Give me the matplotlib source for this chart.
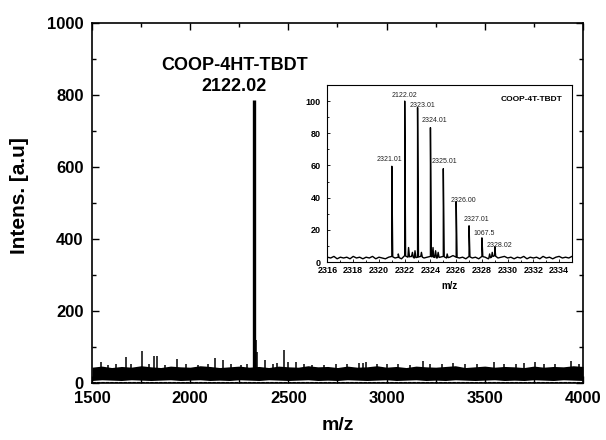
import numpy as np
import matplotlib.pyplot as plt

plt.rcParams['font.family'] = ['Liberation Sans', 'DejaVu Sans']
plt.rcParams['font.weight'] = 'bold'

# ---- main spectrum (1500-4000) ----
band_mz = np.arange(1500, 4001, 50)
band_top = [44, 47, 43, 46, 44, 48, 45, 43, 47, 45, 44, 48, 46, 43, 45,
            47, 44, 46, 43, 47, 45, 44, 48, 45, 46, 43, 47, 44, 45, 48,
            44, 46, 43, 47, 45, 44, 46, 48, 43, 45, 47, 44, 46, 45, 43,
            47, 44, 46, 45, 48, 46]
band_bottom = [7, 9, 8, 7, 9, 8, 7, 8, 9, 7, 8, 9, 7, 8, 7, 9, 8,
               7, 9, 8, 7, 8, 9, 7, 8, 7, 9, 8, 7, 8, 9, 7, 8, 9,
               7, 8, 7, 9, 8, 7, 8, 9, 7, 8, 7, 9, 8, 7, 9, 8, 7]
floor_int = 3

stick_mz = [1546, 1580, 1620, 1673, 1700, 1756, 1790, 1817, 1831, 1870,
            1933, 1980, 2040, 2090, 2126, 2168, 2210, 2260, 2290,
            2324, 2330, 2335, 2342, 2381, 2420, 2440, 2478, 2500, 2541,
            2580, 2620, 2680, 2740, 2800, 2860, 2880, 2895, 2950, 3000,
            3060, 3120, 3187, 3220, 3280, 3340, 3400, 3460, 3545, 3600,
            3660, 3700, 3754, 3800, 3860, 3937, 3980]
stick_int = [58, 50, 52, 72, 52, 89, 52, 75, 75, 51,
             66, 52, 50, 52, 70, 64, 52, 50, 53,
             785, 180, 120, 86, 63, 52, 55, 92, 58, 58,
             52, 51, 50, 52, 54, 56, 55, 57, 52, 52,
             54, 51, 62, 52, 54, 55, 52, 54, 58, 52,
             53, 55, 57, 53, 54, 62, 52]

# ---- inset: isotope pattern ----
iso_mz = [2321.0, 2322.0, 2323.0, 2324.0, 2325.0, 2326.0, 2327.0, 2328.0, 2329.0]
iso_int = [59.5, 100, 96, 83.5, 58, 37.5, 22.5, 15, 9.5]
iso_labels = ['2321.01', '2122.02', '2323.01', '2324.01', '2325.01',
              '2326.00', '2327.01', '1067.5', '2328.02']
small_mz = [2321.5, 2322.3, 2322.6, 2322.8, 2323.3, 2324.2, 2324.4,
            2324.6, 2325.3, 2328.6, 2328.8]
small_int = [5, 9, 6, 7, 6, 9, 7, 6, 5, 5, 6]

base_mz = np.arange(2316, 2335.01, 0.25)
base_int = [3, 2.5, 3.5, 2, 3, 2.5, 3, 2, 3.5, 2.5, 3, 2, 3, 2.5, 3.5, 2,
            3, 2.5, 2, 3, 3.5, 2.5, 3, 2, 4, 3, 3.5, 2.5, 3, 3.5, 2.5, 3,
            3.5, 3, 2.5, 3, 3.5, 2.5, 3, 4, 3, 2.5, 3, 2, 3.5, 2.5, 3, 2,
            3.5, 3, 2, 3, 4, 2.5, 3, 3.5, 2.5, 3, 2, 3, 2.5, 3.5, 2, 3,
            2.5, 3, 2, 3.5, 2.5, 3, 2, 3, 3.5, 2.5, 3, 2.5, 3.5]

fig = plt.figure(figsize=(6.06, 4.4), dpi=100)
ax = fig.add_axes([0.1518, 0.1295, 0.8102, 0.8182])

ax.fill_between(band_mz, band_bottom, band_top, color='black', lw=0)
ax.plot(band_mz, [floor_int] * len(band_mz), color='black', lw=0.8,
        ls=(0, (3, 1)))
widths = [2.4 if v > 500 else 1.1 for v in stick_int]
ax.vlines(stick_mz, 10, stick_int, color='black', lw=widths)

ax.set_xlim(1500, 4000)
ax.set_ylim(0, 1000)
ax.set_xticks(np.arange(1500, 4001, 500))
ax.set_xticks(np.arange(1500, 4001, 250), minor=True)
ax.set_yticks(np.arange(0, 1001, 200))
ax.set_yticks(np.arange(0, 1001, 100), minor=True)
ax.tick_params(which='both', direction='in', top=True, right=True,
               labelsize=12, width=1.0)
ax.tick_params(which='major', length=5, pad=6)
ax.tick_params(which='minor', length=3)
for s in ax.spines.values():
    s.set_linewidth(1.2)
ax.set_xlabel('m/z', fontsize=14, fontweight='bold', labelpad=8)
ax.set_ylabel('Intens. [a.u]', fontsize=15, fontweight='bold')
ax.yaxis.set_label_coords(-0.128, 0.52)

ax.text(2225, 853, 'COOP-4HT-TBDT\n2122.02', ha='center', va='center',
        fontsize=13, fontweight='bold', linespacing=1.35)

# ---- inset ----
ins = fig.add_axes([0.5404, 0.4045, 0.4035, 0.4023])
hw = 0.07
px = list(base_mz)
py = list(base_int)
for c, h in zip(iso_mz + small_mz, iso_int + small_int):
    b = np.interp([c - hw, c + hw], base_mz, base_int)
    px += [c - hw, c, c + hw]
    py += [b[0], h, b[1]]
order = np.argsort(px, kind='stable')
ins.plot(np.array(px)[order], np.array(py)[order], color='black', lw=1.0)

label_x = [2320.8, 2322.0, 2323.4, 2324.3, 2325.1, 2326.6, 2327.6, 2328.2, 2329.4]
label_y = [64, 103.5, 97, 88, 62.5, 38.5, 26.5, 17.5, 10.5]
for x, y, t in zip(label_x, label_y, iso_labels):
    ins.text(x, y, t, ha='center', va='center', fontsize=5,
             fontweight='normal', color='#222222')

ins.text(0.96, 0.92, 'COOP-4T-TBDT', transform=ins.transAxes, ha='right',
         va='center', fontsize=6, fontweight='bold')
ins.set_xlim(2316, 2335)
ins.set_ylim(0, 110)
ins.set_xticks(np.arange(2316, 2335, 2))
ins.set_xticks(np.arange(2316, 2336, 1), minor=True)
ins.set_yticks(np.arange(0, 101, 20))
ins.set_yticks(np.arange(0, 111, 10), minor=True)
ins.tick_params(which='both', direction='in', labelsize=6.5, width=0.6)
ins.tick_params(axis='y', pad=5)
ins.tick_params(axis='x', pad=3)
ins.tick_params(which='major', length=2.5)
ins.tick_params(which='minor', length=1.5)
for s in ins.spines.values():
    s.set_linewidth(0.8)
ins.set_xlabel('m/z', fontsize=7, fontweight='bold', labelpad=4)

fig.savefig('out.png', dpi=100)
